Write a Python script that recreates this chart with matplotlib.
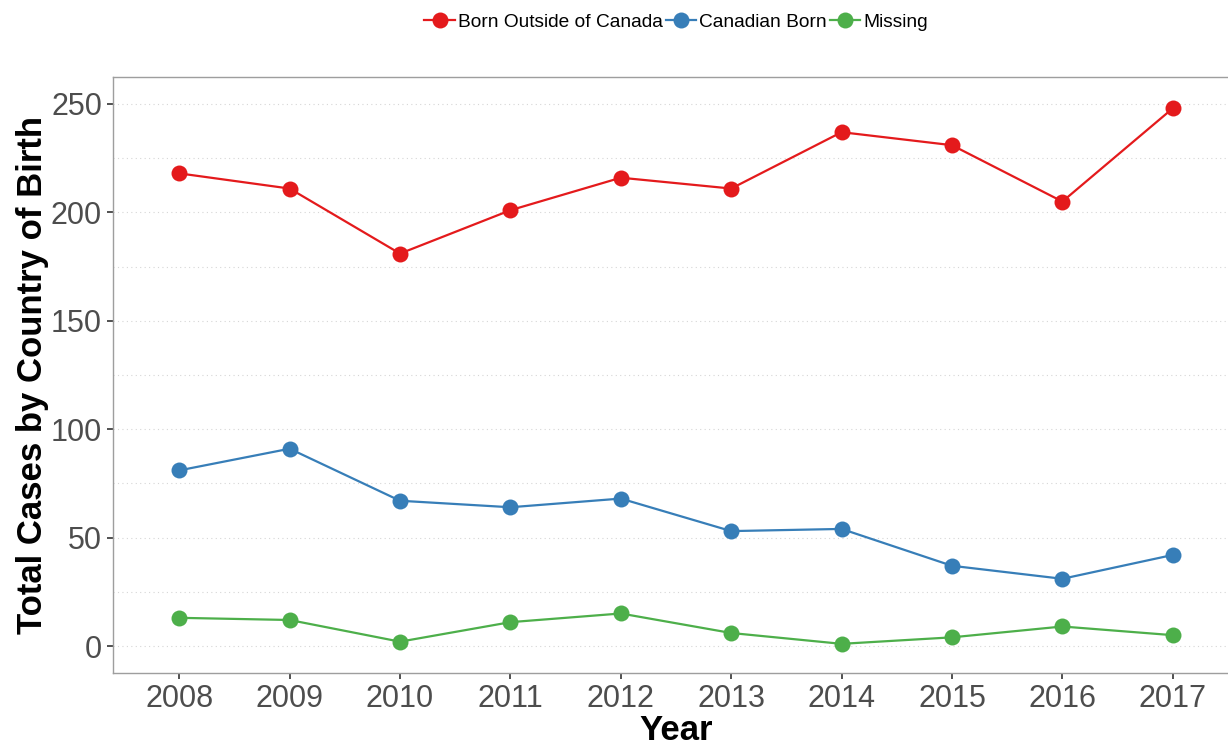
import numpy as np
import matplotlib
matplotlib.use('Agg')
import matplotlib.pyplot as plt
from matplotlib.ticker import MultipleLocator

# Data
years = [2008, 2009, 2010, 2011, 2012, 2013, 2014, 2015, 2016, 2017]
bornOutside = [218, 211, 181, 201, 216, 211, 237, 231, 205, 248]
canadianBorn = [81, 91, 67, 64, 68, 53, 54, 37, 31, 42]
missing = [13, 12, 2, 11, 15, 6, 1, 4, 9, 5]

seriesNames = ['Born Outside of Canada', 'Canadian Born', 'Missing']
seriesColors = ['#E41A1C', '#377EB8', '#4DAF4A']

plt.rcParams['font.family'] = ['Liberation Sans', 'DejaVu Sans']

fig = plt.figure(figsize=(12.28, 7.46), dpi=100)
ax = fig.add_axes([113 / 1228, 73 / 746, (1239 - 113) / 1228, 596 / 746])

for values, name, color in zip([bornOutside, canadianBorn, missing], seriesNames, seriesColors):
    ax.plot(years, values, color=color, linewidth=1.6, marker='o', markersize=11.5,
            markeredgewidth=0, label=name, zorder=3)

ax.set_xlim(2007.4, 2017.6)
ax.set_ylim(-12.45, 262.45)
ax.set_xticks(years)
ax.yaxis.set_major_locator(MultipleLocator(50))
ax.yaxis.set_minor_locator(MultipleLocator(25))

# dotted light grid on major and minor y positions
ax.grid(axis='y', which='both', color='#D6D6D6', linestyle=(0, (1, 3)), linewidth=0.8)
ax.grid(axis='x', visible=False)
ax.set_axisbelow(True)

for side in ['left', 'right', 'top', 'bottom']:
    ax.spines[side].set_color('#9E9E9E')
    ax.spines[side].set_linewidth(1.0)

ax.tick_params(axis='both', which='major', length=4, width=1.2, color='#333333',
               labelsize=22, labelcolor='#4D4D4D')
ax.tick_params(axis='x', pad=4)
ax.tick_params(axis='y', pad=4)
ax.tick_params(axis='y', which='minor', length=0)

ax.set_xlabel('Year', fontsize=25, fontweight='bold', labelpad=0)
ax.set_ylabel('Total Cases by Country of Birth', fontsize=25, fontweight='bold', labelpad=1)

ax.legend(loc='center', bbox_to_anchor=(0.5, 1.092), ncol=3, frameon=False,
          fontsize=13.8, handlelength=1.6, handletextpad=0.15, columnspacing=0.15,
          borderaxespad=0, markerscale=1.0)

fig.savefig('out.png', dpi=100)
